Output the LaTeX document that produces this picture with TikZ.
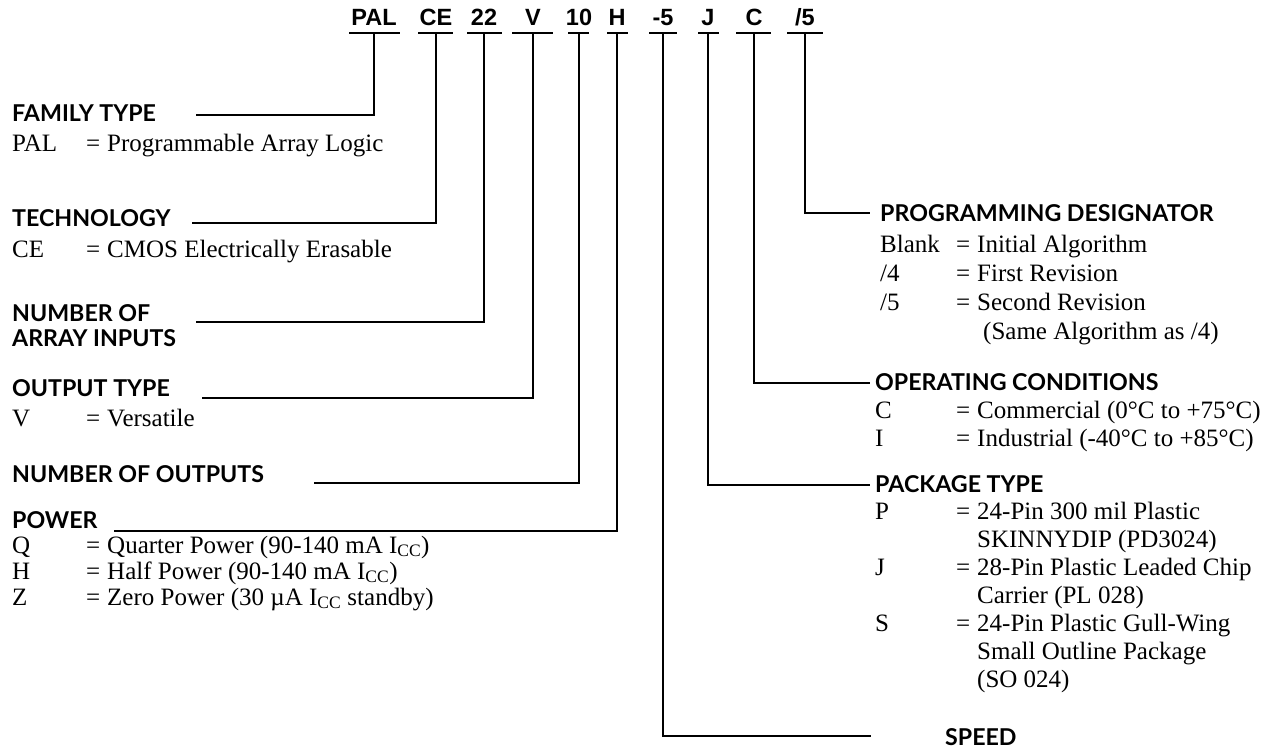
\documentclass[tikz,border=0pt]{standalone}
\usepackage{fontspec}
\setmainfont{Liberation Serif}
\newfontfamily\hdfont{Lato}
\newfontfamily\cdfont{Liberation Sans}
\tikzset{
  ln/.style={line width=1.9pt, line cap=rect},
  code/.style={anchor=base, inner sep=0pt, font=\cdfont\bfseries\fontsize{23.5}{23.5}\selectfont},
  head/.style={anchor=base west, inner sep=0pt, font=\hdfont\bfseries\fontsize{23.2}{25}\selectfont},
  txt/.style={anchor=base west, inner sep=0pt, font=\fontsize{25}{29}\selectfont},
}
\begin{document}
\begin{tikzpicture}[x=1pt,y=-1pt]
\useasboundingbox (0,0) rectangle (1286,749);
% top codes
\node[code] (cPAL) at (374,26) {PAL};
\node[code] (cCE)  at (436,26) {CE};
\node[code] (c22)  at (484,26) {22};
\node[code] (cV)   at (533,26) {V};
\node[code] (c10)  at (579,26) {10};
\node[code] (cH)   at (617,26) {H};
\node[code] (c5)   at (663,26) {-5};
\node[code] (cJ)   at (708,26) {J};
\node[code] (cC)   at (754,26) {C};
\node[code] (cR)   at (805,26) {/5};
% underlines
\draw[ln] (350,33) -- (399,33);
\draw[ln] (419,33) -- (452,33);
\draw[ln] (468,33) -- (501,33);
\draw[ln] (513,33) -- (552,33);
\draw[ln] (569,33) -- (588,33);
\draw[ln] (608,33) -- (627,33);
\draw[ln] (650,33) -- (676,33);
\draw[ln] (699,33) -- (718,33);
\draw[ln] (737,33) -- (770,33);
\draw[ln] (788,33) -- (822,33);
% connector start points
\coordinate (uPAL) at (374,33);
\coordinate (uCE)  at (436,33);
\coordinate (u22)  at (484,33);
\coordinate (uV)   at (533,33);
\coordinate (u10)  at (579,33);
\coordinate (uH)   at (617,33);
\coordinate (u5)   at (663,33);
\coordinate (uJ)   at (708,33);
\coordinate (uC)   at (754,33);
\coordinate (uR)   at (805,33);
% connector end points
\coordinate (eFam)  at (197,115);
\coordinate (eTech) at (193,223);
\coordinate (eNai)  at (197,322);
\coordinate (eOut)  at (203,398);
\coordinate (eNo)   at (315,483);
\coordinate (ePow)  at (115,531);
\coordinate (eProg) at (869,213);
\coordinate (eOp)   at (869,383);
\coordinate (ePkg)  at (869,485);
\coordinate (eSpd)  at (870,736);
% connectors
\draw[ln] (uPAL) |- (eFam);
\draw[ln] (uCE)  |- (eTech);
\draw[ln] (u22)  |- (eNai);
\draw[ln] (uV)   |- (eOut);
\draw[ln] (u10)  |- (eNo);
\draw[ln] (uH)   |- (ePow);
\draw[ln] (uR)   |- (eProg);
\draw[ln] (uC)   |- (eOp);
\draw[ln] (uJ)   |- (ePkg);
\draw[ln] (u5)   |- (eSpd);
% left column
\node[head] (hFam) at (12,122) {FAMILY TYPE};
\node[txt] (kPAL) at (12,152) {PAL};
\node[txt] (qPAL) at (86,152) {=};
\node[txt] (vPAL) at (107,152) {Programmable Array Logic};
\node[head] (hTech) at (12,226) {TECHNOLOGY};
\node[txt] (kCE) at (12,258) {CE};
\node[txt] (qCE) at (86,258) {=};
\node[txt] (vCE) at (107,258) {CMOS Electrically Erasable};
\node[head] (hNai1) at (12,321) {NUMBER OF};
\node[head] (hNai2) at (12,346) {ARRAY INPUTS};
\node[head] (hOut) at (12,396) {OUTPUT TYPE};
\node[txt] (kV) at (12,426) {V};
\node[txt] (qV) at (86,426) {=};
\node[txt] (vV) at (107,426) {Versatile};
\node[head] (hNo) at (12,482) {NUMBER OF OUTPUTS};
\node[head] (hPow) at (12,528) {POWER};
\node[txt] (kQ) at (12,553) {Q};
\node[txt] (qQ) at (86,553) {=};
\node[txt] (vQ) at (107,553) {Quarter Power (90-140 mA I\textsubscript{CC})};
\node[txt] (kH) at (12,579) {H};
\node[txt] (qH) at (86,579) {=};
\node[txt] (vH) at (107,579) {Half Power (90-140 mA I\textsubscript{CC})};
\node[txt] (kZ) at (12,605) {Z};
\node[txt] (qZ) at (86,605) {=};
\node[txt] (vZ) at (107,605) {Zero Power (30 µA I\textsubscript{CC} standby)};
% right column
\node[head] (hProg) at (880,222) {PROGRAMMING DESIGNATOR};
\node[txt] (kB) at (880,252) {Blank};
\node[txt] (qB) at (956,252) {=};
\node[txt] (vB) at (977,252) {Initial Algorithm};
\node[txt] (k4) at (880,281) {/4};
\node[txt] (q4) at (956,281) {=};
\node[txt] (v4) at (977,281) {First Revision};
\node[txt] (k5) at (880,310) {/5};
\node[txt] (q5) at (956,310) {=};
\node[txt] (v5) at (977,310) {Second Revision};
\node[txt] (v5b) at (983,339) {(Same Algorithm as /4)};
\node[head] (hOp) at (875,390) {OPERATING CONDITIONS};
\node[txt] (kC) at (875,418) {C};
\node[txt] (qC) at (956,418) {=};
\node[txt] (vC) at (977,418) {Commercial (0°C to +75°C)};
\node[txt] (kI) at (875,446) {I};
\node[txt] (qI) at (956,446) {=};
\node[txt] (vI) at (977,446) {Industrial (-40°C to +85°C)};
\node[head] (hPkg) at (875,492) {PACKAGE TYPE};
\node[txt] (kP) at (875,519) {P};
\node[txt] (qP) at (956,519) {=};
\node[txt] (vP) at (977,519) {24-Pin 300 mil Plastic};
\node[txt] (vPb) at (977,547) {SKINNYDIP (PD3024)};
\node[txt] (kJ) at (875,575) {J};
\node[txt] (qJ) at (956,575) {=};
\node[txt] (vJ) at (977,575) {28-Pin Plastic Leaded Chip};
\node[txt] (vJb) at (977,603) {Carrier (PL 028)};
\node[txt] (kS) at (875,631) {S};
\node[txt] (qS) at (956,631) {=};
\node[txt] (vS) at (977,631) {24-Pin Plastic Gull-Wing};
\node[txt] (vSb) at (977,659) {Small Outline Package};
\node[txt] (vSc) at (977,687) {(SO 024)};
\node[head] (hSpd) at (945,745) {SPEED};
\end{tikzpicture}
\end{document}
